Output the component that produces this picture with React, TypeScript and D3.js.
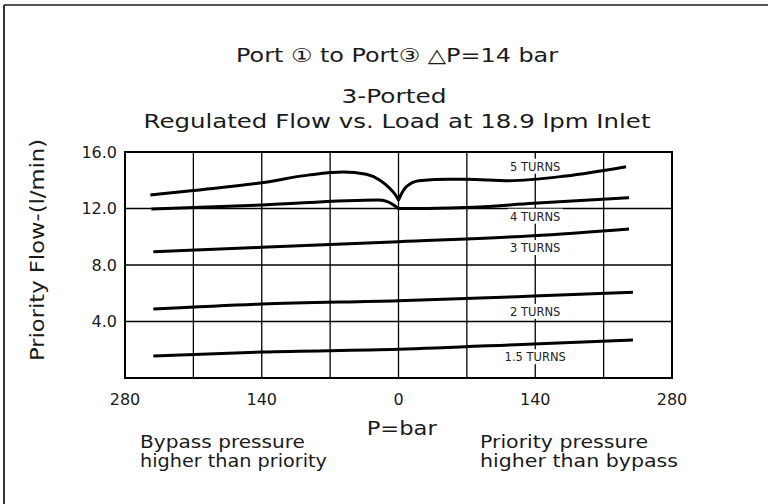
import React from "react";
import * as d3 from "d3";

// ---- data ----
const xTickValues = [-280, -140, 0, 140, 280];
const xTickLabels = ["280", "140", "0", "140", "280"];
const xGridValues = [-210, -140, -70, 0, 70, 140, 210];
const yTickValues = [16, 12, 8, 4];
const yTickLabels = ["16.0", "12.0", "8.0", "4.0"];
const yGridValues = [4, 8, 12];

const p5 = [-254, -210, -140, -91, -57, -33, -19, -9, -2, 0, 2, 8, 21, 52, 69, 113, 171, 233];
const v5 = [12.96, 13.28, 13.82, 14.38, 14.58, 14.42, 14.0, 13.43, 12.85, 12.6, 12.9, 13.54, 13.97, 14.07, 14.07, 13.97, 14.3, 14.96];

const p4 = [-253, -139, -21, -12, -5, -1, 0, 8, 52, 69, 138, 236];
const v4 = [11.96, 12.25, 12.6, 12.5, 12.25, 12.05, 12.0, 12.0, 12.04, 12.07, 12.37, 12.77];

const p3 = [-251, -140, 0, 138, 236];
const v3 = [8.94, 9.25, 9.65, 10.07, 10.55];

const p2 = [-251, -140, 0, 138, 240];
const v2 = [4.88, 5.24, 5.47, 5.8, 6.07];

const p15 = [-251, -140, 0, 138, 240];
const v15 = [1.56, 1.84, 2.03, 2.41, 2.69];

const seriesP = [p5, p4, p3, p2, p15];
const seriesV = [v5, v4, v3, v2, v15];

const turnLabels = ["5 TURNS", "4 TURNS", "3 TURNS", "2 TURNS", "1.5 TURNS"];
const turnLabelY = [14.96, 11.42, 9.2, 4.68, 1.47];
const turnLabelX = 140;

const title1 = "Port \u2460 to Port\u2462 \u25B3P=14 bar";
const title2 = "3-Ported";
const title3 = "Regulated Flow vs. Load at 18.9 lpm Inlet";
const yTitle = "Priority Flow-(l/min)";
const xTitle = "P=bar";
const leftNote = ["Bypass pressure", "higher than priority"];
const rightNote = ["Priority pressure", "higher than bypass"];

const FONT = "'DejaVu Sans', sans-serif";

export default function App() {
  const left = 125, right = 672, top = 152, bottom = 378;
  const x = d3.scaleLinear().domain([-280, 280]).range([left, right]);
  const y = d3.scaleLinear().domain([0, 16]).range([bottom, top]);
  const line = d3
    .line<[number, number]>()
    .x((d) => x(d[0]))
    .y((d) => y(d[1]))
    .curve(d3.curveMonotoneX);

  return (
    <svg
      width={768}
      height={504}
      style={{ position: "absolute", left: 0, top: 0, display: "block", background: "#fff" }}
      fontFamily={FONT}
    >
      <rect x={0} y={0} width={768} height={504} fill="#fff" />
      {/* frame */}
      <line x1={4} y1={5} x2={768} y2={5} stroke="#555" strokeWidth={2} />
      <line x1={4} y1={5} x2={4} y2={504} stroke="#333" strokeWidth={2} />

      {/* titles */}
      <text x={397} y={62} textAnchor="middle" fontSize={19} textLength={322} lengthAdjust="spacingAndGlyphs" fill="#1a1a1a">
        {title1}
      </text>
      <text x={394} y={102.5} textAnchor="middle" fontSize={19} textLength={105} lengthAdjust="spacingAndGlyphs" fill="#1a1a1a">
        {title2}
      </text>
      <text x={397} y={128.3} textAnchor="middle" fontSize={19} textLength={507} lengthAdjust="spacingAndGlyphs" fill="#1a1a1a">
        {title3}
      </text>

      {/* grid */}
      {xGridValues.map((v) => (
        <line key={"gx" + v} x1={x(v)} x2={x(v)} y1={top} y2={bottom} stroke="#000" strokeWidth={1.3} />
      ))}
      {yGridValues.map((v) => (
        <line key={"gy" + v} x1={left} x2={right} y1={y(v)} y2={y(v)} stroke="#000" strokeWidth={1.3} />
      ))}

      {/* curves */}
      {seriesP.map((ps, i) => (
        <path
          key={"s" + i}
          d={line(ps.map((p, j) => [p, seriesV[i][j]] as [number, number])) || ""}
          fill="none"
          stroke="#000"
          strokeWidth={3}
          strokeLinejoin="round"
          strokeLinecap="butt"
        />
      ))}

      {/* turn labels */}
      {turnLabels.map((t, i) => {
        const w = t.length * 7.3 + 4;
        return (
          <g key={"t" + i}>
            <rect x={x(turnLabelX) - w / 2} y={y(turnLabelY[i]) - 8} width={w} height={15} fill="#fff" />
            <text
              x={x(turnLabelX)}
              y={y(turnLabelY[i])}
              dy="0.35em"
              textAnchor="middle"
              fontSize={11.5}
              fill="#222"
            >
              {t}
            </text>
          </g>
        );
      })}

      {/* border */}
      <rect x={left} y={top} width={right - left} height={bottom - top} fill="none" stroke="#000" strokeWidth={2} />

      {/* y ticks */}
      {yTickValues.map((v, i) => (
        <text key={"yt" + v} x={117} y={y(v)} dy="0.35em" textAnchor="end" fontSize={16} fill="#1a1a1a">
          {yTickLabels[i]}
        </text>
      ))}
      {/* x ticks */}
      {xTickValues.map((v, i) => (
        <text key={"xt" + i} x={x(v)} y={405} textAnchor="middle" fontSize={16} fill="#1a1a1a">
          {xTickLabels[i]}
        </text>
      ))}

      {/* axis titles */}
      <text
        transform={`translate(44,250) rotate(-90)`}
        textAnchor="middle"
        fontSize={19}
        textLength={222}
        lengthAdjust="spacingAndGlyphs"
        fill="#1a1a1a"
      >
        {yTitle}
      </text>
      <text x={401.7} y={435} textAnchor="middle" fontSize={19} textLength={70} lengthAdjust="spacingAndGlyphs" fill="#1a1a1a">
        {xTitle}
      </text>

      <text x={140} y={448} fontSize={17} fill="#1a1a1a" textLength={165} lengthAdjust="spacingAndGlyphs">{leftNote[0]}</text>
      <text x={140} y={467} fontSize={17} fill="#1a1a1a" textLength={187} lengthAdjust="spacingAndGlyphs">{leftNote[1]}</text>
      <text x={480} y={448} fontSize={17} fill="#1a1a1a" textLength={168} lengthAdjust="spacingAndGlyphs">{rightNote[0]}</text>
      <text x={480} y={467} fontSize={17} fill="#1a1a1a" textLength={198} lengthAdjust="spacingAndGlyphs">{rightNote[1]}</text>
    </svg>
  );
}
